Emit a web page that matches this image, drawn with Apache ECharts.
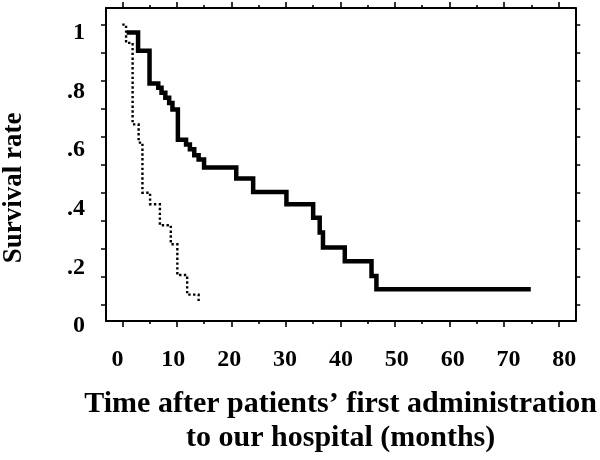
<!DOCTYPE html>
<html>
<head>
<meta charset="utf-8">
<script src="https://cdn.jsdelivr.net/npm/echarts@6/dist/echarts.min.js"></script>
<style>
html,body{margin:0;padding:0;background:#fff;}
#chart{width:600px;height:460px;}
</style>
</head>
<body>
<div id="chart"></div>
<script>
// Kaplan-Meier style curves: [months, survival rate]
var solidTimes = [0.8, 2.9, 5.0, 6.6, 7.2, 7.9, 8.6, 9.2, 10.2, 11.7, 12.4, 13.2, 14.0, 15.0, 20.9, 24.0, 30.1, 35.0, 36.2, 36.8, 40.8, 45.7, 46.6, 74.9];
var solidRates = [0.972, 0.907, 0.79, 0.775, 0.757, 0.739, 0.72, 0.697, 0.589, 0.572, 0.555, 0.534, 0.519, 0.49, 0.451, 0.403, 0.359, 0.311, 0.258, 0.204, 0.155, 0.103, 0.055, 0.055];
var dottedTimes = [0, 0.7, 1.9, 3.0, 3.7, 5.1, 6.9, 8.9, 10.1, 11.9, 14.0];
var dottedRates = [1.0, 0.935, 0.644, 0.579, 0.40, 0.359, 0.284, 0.216, 0.106, 0.036, 0.009];

var xMajorTicks = [0, 10, 20, 30, 40, 50, 60, 70, 80];
var xMinorTicks = [5, 15, 25, 35, 45, 55, 65, 75];
var xTickLabels = [0, 10, 20, 30, 40, 50, 60, 70, 80];
var yTicks = [0, 0.1, 0.2, 0.3, 0.4, 0.5, 0.6, 0.7, 0.8, 0.9, 1.0];
var yTickLabels = [0, 0.2, 0.4, 0.6, 0.8, 1.0];

var xTitle = 'Time after patients\u2019 first administration\nto our hospital (months)';
var yTitle = 'Survival rate';

function pairs(t, v) { return t.map(function (x, i) { return [x, v[i]]; }); }

var FONT = 'Liberation Serif';
var X_MIN = -2.98, X_MAX = 83.06;
var Y_MIN = -0.058, Y_MAX = 1.0595;

function xTickAxis(pos, ticks, len, line) {
  return {
    type: 'value', gridIndex: 0, position: pos, min: X_MIN, max: X_MAX,
    axisLine: { show: line, onZero: false, lineStyle: { color: '#000', width: 2 } },
    axisTick: { show: true, inside: false, length: len, customValues: ticks, lineStyle: { color: '#000', width: 1.6 } },
    axisLabel: { show: false }, splitLine: { show: false }
  };
}
function yTickAxis(pos) {
  return {
    type: 'value', gridIndex: 0, position: pos, min: Y_MIN, max: Y_MAX,
    axisLine: { show: true, onZero: false, lineStyle: { color: '#000', width: 2 } },
    axisTick: { show: true, inside: false, length: 5, customValues: yTicks, lineStyle: { color: '#000', width: 1.5 } },
    axisLabel: { show: false }, splitLine: { show: false }
  };
}

var chart = echarts.init(document.getElementById('chart'), null, { renderer: 'canvas' });
chart.setOption({
  backgroundColor: '#fff',
  animation: false,
  grid: [
    { left: 106, top: 8, width: 470, height: 314, containLabel: false },
    // label placement grid: the reference prints its y tick labels slightly below the ticks
    { left: 106, top: 33, width: 470, height: 293, containLabel: false }
  ],
  xAxis: [
    xTickAxis('bottom', xMajorTicks, 6, true),
    xTickAxis('bottom', xMinorTicks, 3, false),
    xTickAxis('top', xMajorTicks, 6, true),
    xTickAxis('top', xMinorTicks, 3, false),
    {
      type: 'value', gridIndex: 0, position: 'bottom', min: -2.056, max: 81.96,
      axisLine: { show: false }, axisTick: { show: false }, splitLine: { show: false },
      axisLabel: {
        show: true, customValues: xTickLabels, margin: 28,
        color: '#000', fontFamily: FONT, fontWeight: 'bold', fontSize: 24, lineHeight: 22,
        verticalAlign: 'top'
      },
      name: xTitle, nameLocation: 'middle', nameGap: 66,
      nameTextStyle: { color: '#000', fontFamily: FONT, fontWeight: 'bold', fontSize: 30, lineHeight: 34, verticalAlign: 'top', align: 'center' }
    },
    { type: 'value', gridIndex: 1, show: false, min: 0, max: 1 }
  ],
  yAxis: [
    yTickAxis('left'),
    yTickAxis('right'),
    {
      type: 'value', gridIndex: 1, position: 'left', min: 0, max: 1,
      axisLine: { show: false }, axisTick: { show: false }, splitLine: { show: false },
      axisLabel: {
        show: true, customValues: yTickLabels, margin: 21,
        color: '#000', fontFamily: FONT, fontWeight: 'bold', fontSize: 24,
        formatter: function (v) {
          if (v === 0) return '0';
          if (Math.abs(v - 1) < 1e-9) return '1';
          return String(Math.round(v * 10) / 10).replace(/^0/, '');
        }
      }
    }
  ],
  graphic: [{
    type: 'text', x: 14, y: 188, rotation: Math.PI / 2,
    style: { text: yTitle, x: 0, y: 0, align: 'center', verticalAlign: 'middle',
      font: 'bold 27px "Liberation Serif"', fill: '#000' }
  }],
  series: [
    {
      type: 'line', step: 'end', xAxisIndex: 0, yAxisIndex: 0,
      data: pairs(solidTimes, solidRates), showSymbol: false, symbol: 'none',
      lineStyle: { color: '#000', width: 4.5, join: 'miter', cap: 'butt' }
    },
    {
      type: 'line', step: 'end', xAxisIndex: 0, yAxisIndex: 0,
      data: pairs(dottedTimes, dottedRates), showSymbol: false, symbol: 'none',
      lineStyle: { color: '#000', width: 2.4, type: [2.4, 2.4], join: 'miter', cap: 'butt' }
    }
  ]
});
</script>
</body>
</html>
